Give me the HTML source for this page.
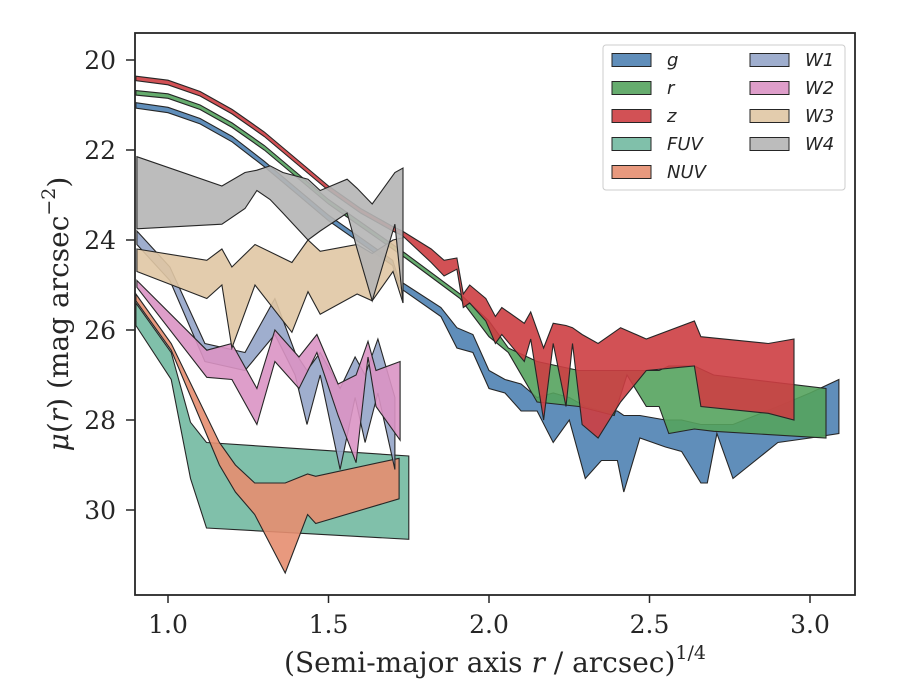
<!DOCTYPE html>
<html><head><meta charset="utf-8">
<style>
body{margin:0;background:#fff;}
svg{display:block;font-family:"DejaVu Serif","Liberation Serif",serif;}
.leg{font-family:"DejaVu Sans","Liberation Sans",sans-serif;font-style:italic;font-size:18px;fill:#262626;}
</style></head><body>
<svg id="chart" width="900" height="700" viewBox="0 0 900 700">
<g id="bands"></g>
<g id="axes"></g>
<g id="legend"></g>
</svg>
<script>
const xTicks=[1.0,1.5,2.0,2.5,3.0];
const yTicks=[20,22,24,26,28,30];
const bandNames=["g","r","z","FUV","NUV","W1","W2","W3","W4"];
const bandColors=["#4f82b2","#55a35e","#cd3e43","#72b9a1","#e68e70","#95a5c9","#da94c4","#e0c7a4","#b5b5b5"];

const gX=[0.9,1.0,1.1,1.2,1.3,1.4,1.5,1.6,1.7,1.72,1.85,1.9,1.95,2.0,2.05,2.1,2.15,2.2,2.25,2.3,2.35,2.4,2.42,2.47,2.55,2.6,2.66,2.68,2.71,2.76,2.9,3.0,3.09];
const gTop=[20.95,21.05,21.3,21.7,22.25,22.85,23.45,23.95,24.45,24.9,25.5,25.95,26.1,26.9,27.1,27.2,27.5,27.4,27.5,27.7,27.8,27.8,27.9,27.9,28.0,28.0,28.1,28.1,28.1,28.1,27.7,27.4,27.1];
const gBot=[21.07,21.17,21.42,21.82,22.37,22.97,23.57,24.07,24.57,25.05,25.7,26.4,26.5,27.3,27.4,27.8,27.8,28.5,28.0,29.3,28.9,28.9,29.6,28.4,28.6,28.7,29.4,29.4,28.3,29.3,28.5,28.4,28.3];

const rX=[0.9,1.0,1.1,1.2,1.3,1.4,1.5,1.6,1.7,1.74,1.91,2.0,2.06,2.15,2.28,2.39,2.43,2.49,2.53,2.56,2.64,2.7,3.05];
const rTop=[20.68,20.75,21.0,21.4,21.9,22.5,23.1,23.6,24.1,24.3,25.2,25.8,26.4,26.7,26.9,26.9,26.9,26.9,26.9,26.8,26.8,27.0,27.3];
const rBot=[20.78,20.85,21.1,21.5,22.0,22.6,23.2,23.7,24.2,24.4,25.3,26.15,26.5,27.6,27.7,27.9,27.0,27.7,27.7,28.3,28.2,28.25,28.4];

const zX=[0.9,1.0,1.1,1.2,1.3,1.4,1.5,1.6,1.7,1.73,1.82,1.86,1.9,1.92,1.94,1.99,2.02,2.04,2.11,2.13,2.17,2.2,2.24,2.26,2.29,2.34,2.41,2.49,2.64,2.66,2.87,2.95];
const zTop=[20.36,20.45,20.7,21.1,21.6,22.2,22.8,23.3,23.7,23.8,24.2,24.45,24.4,25.2,25.0,25.3,25.7,25.5,25.85,25.6,26.4,25.85,25.9,25.95,26.1,26.3,25.95,26.2,25.8,26.15,26.3,26.2];
const zBot=[20.46,20.55,20.8,21.2,21.7,22.3,22.9,23.4,23.8,23.9,24.5,24.8,24.65,25.5,25.4,25.8,26.3,26.1,26.7,26.2,28.0,26.3,27.7,26.3,28.1,28.4,27.6,26.9,26.8,27.7,27.85,28.0];

const fuvX=[0.9,1.01,1.07,1.12,1.75];
const fuvTop=[25.4,26.5,28.05,28.5,28.8];
const fuvBot=[25.9,27.1,29.3,30.4,30.65];

const nuvX=[0.9,1.01,1.16,1.21,1.27,1.365,1.435,1.46,1.72];
const nuvTop=[25.2,26.3,28.5,29.0,29.4,29.4,29.2,29.25,28.85];
const nuvBot=[25.35,26.45,29.0,29.6,30.1,31.4,30.1,30.3,29.75];

const w1X=[0.903,1.006,1.115,1.24,1.333,1.396,1.433,1.474,1.536,1.583,1.614,1.654,1.707];
const w1Top=[23.8,24.6,26.3,26.5,25.3,26.5,26.9,26.5,27.3,26.6,27.0,26.2,27.5];
const w1Bot=[24.1,24.9,26.7,26.9,26.1,27.0,28.1,27.0,29.1,27.5,28.5,27.4,29.1];

const w2X=[0.903,1.121,1.199,1.277,1.333,1.408,1.464,1.53,1.586,1.623,1.648,1.723];
const w2Top=[24.9,26.45,26.3,27.3,26.0,26.6,26.1,27.2,27.0,26.25,26.9,26.7];
const w2Bot=[25.05,27.05,27.1,28.1,26.7,27.3,26.5,27.9,28.95,26.6,27.7,28.45];

const w3X=[0.903,1.121,1.168,1.199,1.271,1.386,1.436,1.474,1.589,1.636,1.701,1.732];
const w3Top=[24.2,24.45,24.2,24.6,24.1,24.5,24.0,24.25,24.1,24.3,24.0,23.95];
const w3Bot=[24.7,25.3,25.0,26.4,25.0,26.05,25.15,25.65,25.2,25.35,24.7,25.4];

const w4X=[0.903,1.168,1.24,1.277,1.318,1.358,1.436,1.474,1.558,1.589,1.636,1.707,1.732];
const w4Top=[22.15,22.8,22.5,22.45,22.35,22.5,22.65,22.9,22.65,22.85,23.2,22.5,22.4];
const w4Bot=[23.75,23.65,23.3,22.9,23.1,23.4,24.0,23.8,23.4,24.2,25.35,23.65,25.4];

const bandData=[[gX,gTop,gBot],[rX,rTop,rBot],[zX,zTop,zBot],[fuvX,fuvTop,fuvBot],[nuvX,nuvTop,nuvBot],[w1X,w1Top,w1Bot],[w2X,w2Top,w2Bot],[w3X,w3Top,w3Bot],[w4X,w4Top,w4Bot]];

const L=135,R=855,T=33,B=595;
function sx(v){return 168+321*(v-1);}
function sy(v){return 60+45*(v-20);}
const NS="http://www.w3.org/2000/svg";
function mk(tag,attrs,parent){const e=document.createElementNS(NS,tag);for(const k in attrs)e.setAttribute(k,attrs[k]);parent.appendChild(e);return e;}

const svg=document.getElementById('chart');
const defs=mk('defs',{},svg);
const cp=mk('clipPath',{id:'clip'},defs);
mk('rect',{x:L,y:T,width:R-L,height:B-T},cp);
const bands=document.getElementById('bands');
bands.setAttribute('clip-path','url(#clip)');
bandData.forEach((d,i)=>{
  const [xs,tp,bt]=d;
  let pts=[];
  for(let j=0;j<xs.length;j++)pts.push(sx(xs[j]).toFixed(1)+","+sy(tp[j]).toFixed(1));
  for(let j=xs.length-1;j>=0;j--)pts.push(sx(xs[j]).toFixed(1)+","+sy(bt[j]).toFixed(1));
  const p=mk('polygon',{points:pts.join(' '),fill:bandColors[i],'fill-opacity':0.9,stroke:'#262626','stroke-width':1.1,'stroke-linejoin':'miter'},bands);
  
  
});

const axes=document.getElementById('axes');
const frame=mk('rect',{x:L,y:T,width:R-L,height:B-T,fill:'none',stroke:'#262626','stroke-width':1.8},axes);


xTicks.forEach(v=>{
  const x=sx(v);
  const tk=mk('line',{x1:x,x2:x,y1:B,y2:B+8,stroke:'#262626','stroke-width':1.5},axes);
  
  
  const t=mk('text',{x:x,y:B+38,'text-anchor':'middle','font-size':25,fill:'#262626'},axes);
  t.textContent=v.toFixed(1);
  
  
});
yTicks.forEach(v=>{
  const y=sy(v);
  const tk=mk('line',{x1:L-9,x2:L,y1:y,y2:y,stroke:'#262626','stroke-width':1.5},axes);
  
  
  const t=mk('text',{x:L-19,y:y+9,'text-anchor':'end','font-size':25,fill:'#262626'},axes);
  t.textContent=v;
  
  
});
const xt=mk('text',{x:495,y:672,'text-anchor':'middle','font-size':28,fill:'#262626'},axes);
xt.innerHTML='(Semi-major axis <tspan font-style="italic">r</tspan> / arcsec)<tspan font-size="19" dy="-13">1/4</tspan>';


const yt=mk('text',{x:0,y:0,'text-anchor':'middle','font-size':28,fill:'#262626',transform:'translate(68,314) rotate(-90)'},axes);
yt.innerHTML='<tspan font-style="italic">μ</tspan>(<tspan font-style="italic">r</tspan>) (mag arcsec<tspan font-size="19" dy="-13">−2</tspan><tspan dy="13">)</tspan>';



const leg=document.getElementById('legend');
const lb=mk('rect',{x:603,y:45,width:242,height:145,rx:3,fill:'#fff','fill-opacity':0.85,stroke:'#cccccc','stroke-width':1},leg);


const rowsY=[60,88,116,144,172];
bandNames.forEach((n,i)=>{
  const col=i<5?0:1, row=i<5?i:i-5;
  const px=col?750:612, y=rowsY[row];
  const g=mk('g',{},leg);
  
  
  mk('rect',{x:px,y:y-6.5,width:39,height:13,fill:bandColors[i],'fill-opacity':0.9,stroke:'#262626','stroke-width':1},g);
  const t=mk('text',{x:px+55,y:y+6,class:'leg'},g);
  t.textContent=n;
});
</script>
</body></html>
